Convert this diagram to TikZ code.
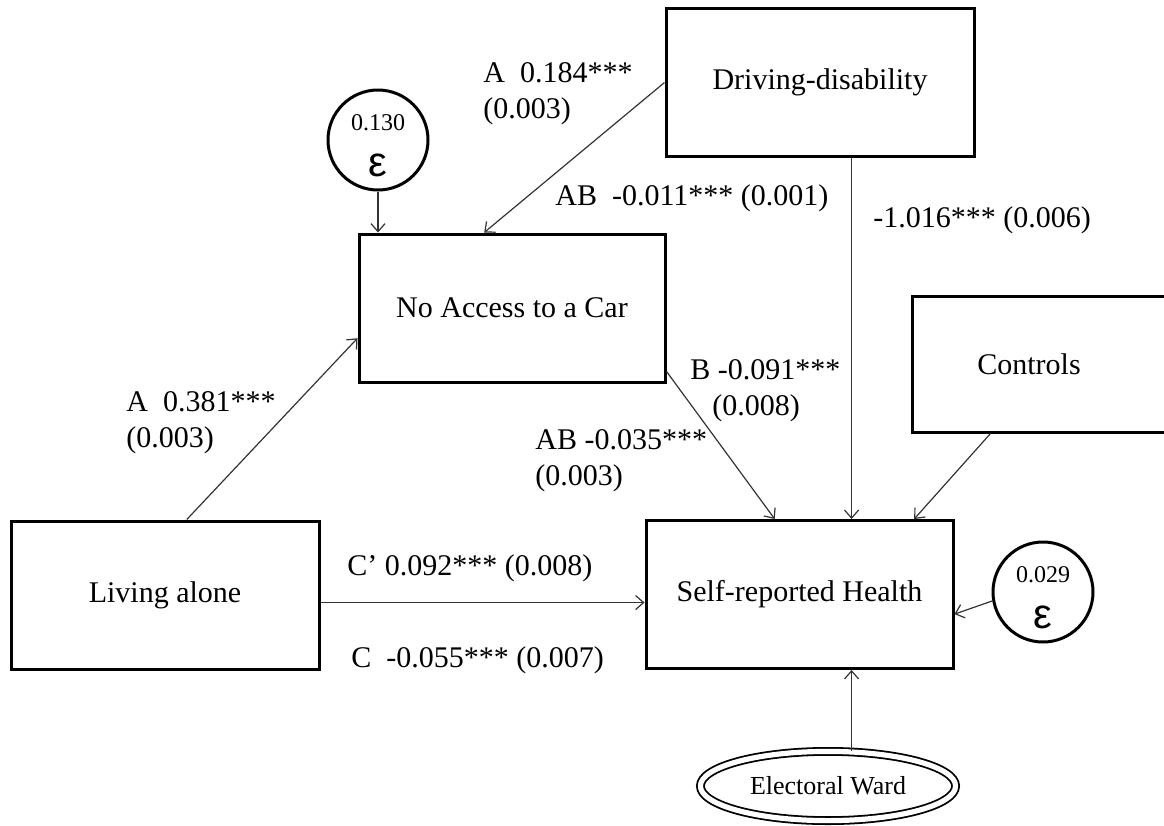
\documentclass[tikz,border=0pt]{standalone}
\usepackage{fontspec}
\setmainfont{Liberation Serif}
\newfontfamily\epsfont{Liberation Sans}
\usetikzlibrary{shapes.geometric, arrows.meta, calc}

\begin{document}
\begin{tikzpicture}[
    x=0.5pt, y=-0.5pt,
    box/.style={draw, line width=1.5pt, minimum width=154pt, minimum height=74pt, inner sep=0pt, font=\fontsize{15pt}{18pt}\selectfont},
    errc/.style={draw, circle, line width=1.5pt, minimum size=50pt, inner sep=0pt, align=center, font=\fontsize{12pt}{20pt}\selectfont},
    coef/.style={inner sep=0pt, anchor=west, align=left, font=\fontsize{15pt}{18pt}\selectfont},
    arr/.style={draw=black!80, line width=0.6pt, -{Straight Barb[length=4pt, width=7pt]}}
]
\useasboundingbox (0,0) rectangle (1164,826);

% observed variables
\node[box] (drive) at (820,82.5) {Driving-disability};
\node[box, minimum width=153pt] (nocar) at (512,308) {No Access to a Car};
\node[box, minimum width=131pt, minimum height=68pt] (controls) at (1043,364) {\hspace*{-14pt}Controls};
\node[box] (living) at (165,595) {Living alone};
\node[box, minimum width=153.5pt] (health) at (799.5,594.5) {Self-reported Health};

% error terms
\node[errc] (eps1) at (378,140) {\rule{0pt}{14pt}0.130\\[3pt]{\epsfont\fontsize{21pt}{20pt}\selectfont ε}};
\node[errc] (eps2) at (1043,592) {\rule{0pt}{14pt}0.029\\[3pt]{\epsfont\fontsize{21pt}{20pt}\selectfont ε}};

% level 2
\node[draw, ellipse, double, line width=0.9pt, double distance=2.6pt, minimum width=127.6pt, minimum height=34.6pt, inner sep=0pt, font=\fontsize{13pt}{15pt}\selectfont] (ward) at (828,786) {Electoral Ward};

% arrow ends
\coordinate (drivein) at ($(nocar.north west)!0.41!(nocar.north east)$);
\coordinate (livingout) at ($(living.north west)!0.57!(living.north east)$);
\coordinate (nocarin) at ($(nocar.north west)!0.70!(nocar.south west)$);
\coordinate (nocarout) at ($(nocar.north east)!0.92!(nocar.south east)$);
\coordinate (mediatein) at ($(health.north west)!0.42!(health.north east)$);
\coordinate (directin) at ($(health.north west)!0.668!(health.north east)$);
\coordinate (controlsin) at ($(health.north west)!0.87!(health.north east)$);
\coordinate (controlsout) at ($(controls.south west)+(80,0)$);
\coordinate (livingside) at ($(living.north east)!0.55!(living.south east)$);
\coordinate (epsin) at ($(health.north east)!0.63!(health.south east)$);

% paths
\draw[arr] (drive.west) -- (drivein);
\draw[arr] (eps1.south) -- (eps1.south |- nocar.north);
\draw[arr] (livingout) -- (nocarin);
\draw[arr] (nocarout) -- (mediatein);
\draw[arr] (drive.south -| directin) -- (directin);
\draw[arr] (controlsout) -- (controlsin);
\draw[arr] (livingside) -- (livingside -| health.west);
\draw[arr] (eps2.190) -- (epsin);
\draw[arr] (ward.north -| directin) -- (health.south -| directin);

% coefficients
\node[coef] (a1) at (483,94) {A\ \ 0.184***\\(0.003)};
\node[coef] (ab1) at (555,198) {AB\ \ -0.011*** (0.001)};
\node[coef] (direct) at (873,220) {-1.016*** (0.006)};
\node[coef] (a2) at (126,423) {A\ \ 0.381***\\(0.003)};
\node[coef] (b) at (690,391) {B -0.091***\\\hspace*{11pt}(0.008)};
\node[coef] (ab2) at (535,461) {AB -0.035***\\(0.003)};
\node[coef] (cprime) at (347,568) {C’ 0.092*** (0.008)};
\node[coef] (ctotal) at (351,660) {C\ \ -0.055*** (0.007)};
\end{tikzpicture}
\end{document}
